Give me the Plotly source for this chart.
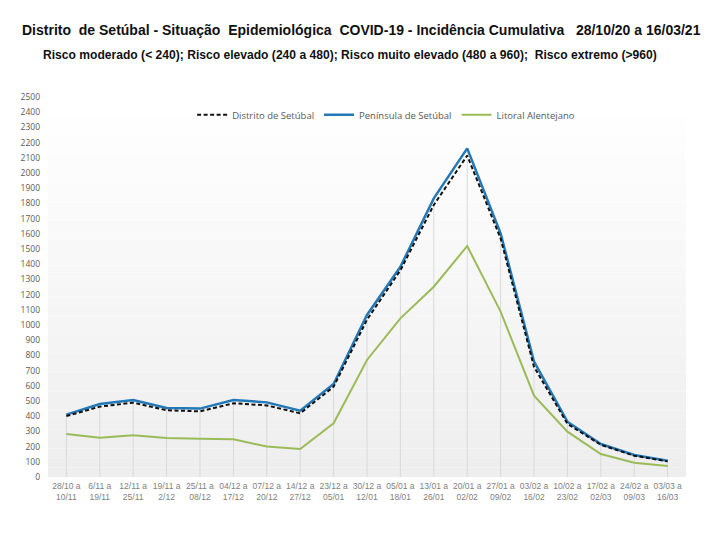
"""Distrito de Setúbal - incidência cumulativa COVID-19 (28/10/20 a 16/03/21)."""
import plotly.graph_objects as go

CATEGORIES: list[str] = [
    "28/10 a<br>10/11", "6/11 a<br>19/11", "12/11 a<br>25/11", "19/11 a<br>2/12",
    "25/11 a<br>08/12", "04/12 a<br>17/12", "07/12 a<br>20/12", "14/12 a<br>27/12",
    "23/12 a<br>05/01", "30/12 a<br>12/01", "05/01 a<br>18/01", "13/01 a<br>26/01",
    "20/01 a<br>02/02", "27/01 a<br>09/02", "03/02 a<br>16/02", "10/02 a<br>23/02",
    "17/02 a<br>02/03", "24/02 a<br>09/03", "03/03 a<br>16/03",
]

DISTRITO: list[float] = [
    401, 463, 489, 439, 432, 485, 471, 419, 594, 1035,
    1360, 1790, 2115, 1570, 725, 350, 212, 140, 103,
]
PENINSULA: list[float] = [
    410, 480, 507, 454, 450, 507, 491, 436, 612, 1066,
    1383, 1833, 2162, 1603, 759, 364, 217, 145, 107,
]
LITORAL: list[float] = [
    283, 259, 274, 257, 252, 248, 200, 184, 353, 770,
    1044, 1252, 1520, 1088, 535, 298, 151, 94, 72,
]

TEXT_GRAY = "#595959"

fig = go.Figure()

# Excel-style drop lines from the highest series down to the axis
drop_x, drop_y = [], []
for cat, a, b, c in zip(CATEGORIES, DISTRITO, PENINSULA, LITORAL):
    drop_x += [cat, cat, None]
    drop_y += [0, max(a, b, c), None]
fig.add_trace(go.Scatter(
    x=drop_x, y=drop_y, mode="lines",
    line={"color": "#d9d9d9", "width": 1},
    showlegend=False, hoverinfo="skip"
))

fig.add_trace(go.Scatter(
    x=CATEGORIES, y=LITORAL, mode="lines", name="Litoral Alentejano",
    line={"color": "#9bbb59", "width": 2}
))
fig.add_trace(go.Scatter(
    x=CATEGORIES, y=PENINSULA, mode="lines", name="Península de Setúbal",
    line={"color": "#2378b8", "width": 2.5}
))
fig.add_trace(go.Scatter(
    x=CATEGORIES, y=DISTRITO, mode="lines", name="Distrito de Setúbal",
    line={"color": "#111111", "width": 2, "dash": "4px,2.5px"}
))

# Vertical gradient for the plot background (white at top to light gray)
bands = 40
shapes = []
for i in range(bands):
    t = i / (bands - 1)
    v = round(255 - 17 * (1 - t))
    shapes.append({
        "type": "rect", "layer": "below", "line": {"width": 0},
        "xref": "x domain", "yref": "y domain",
        "x0": 0, "x1": 1, "y0": i / bands, "y1": (i + 1) / bands,
        "fillcolor": f"rgb({v},{v},{v})",
    })

fig.update_layout(
    width=717, height=538,
    # page body adds ~8px offset, margins compensate for it
    margin={"l": 40, "r": 39, "t": 89, "b": 69},
    paper_bgcolor="white", plot_bgcolor="rgba(0,0,0,0)",
    shapes=shapes,
    font={"family": "Open Sans, sans-serif", "color": TEXT_GRAY},
    legend={
        "orientation": "h", "x": 0.53, "xanchor": "center",
        "y": 0.953, "yanchor": "middle",
        "font": {"size": 9.5, "color": TEXT_GRAY},
        "traceorder": "reversed", "bgcolor": "rgba(0,0,0,0)",
        "itemwidth": 30,
    },
    annotations=[
        {
            "text": "<b>Distrito\u00a0 de Setúbal - Situação\u00a0 Epidemiológica\u00a0 COVID-19 - "
                    "Incidência Cumulativa\u00a0\u00a0 28/10/20 a 16/03/21</b>",
            "xref": "paper", "yref": "paper", "x": 0.5, "y": 1,
            "xanchor": "center", "yanchor": "middle", "yshift": 67,
            "xshift": -6, "showarrow": False,
            "font": {"family": "Liberation Sans, sans-serif",
                     "size": 14, "color": "#111111"},
        },
        {
            "text": "<b>Risco moderado (< 240); Risco elevado (240 a 480); Risco muito elevado "
                    "(480 a 960);\u00a0 Risco extremo (>960)</b>",
            "xref": "paper", "yref": "paper", "x": 0.5, "y": 1,
            "xanchor": "center", "yanchor": "middle", "yshift": 42,
            "xshift": -17, "showarrow": False,
            "font": {"family": "Liberation Sans, sans-serif",
                     "size": 12.1, "color": "#111111"},
        },
    ],
)

fig.update_xaxes(
    type="category", range=[-0.55, len(CATEGORIES) - 0.45],
    showgrid=False, showline=False, zeroline=False, ticks="",
    tickangle=0, tickfont={"family": "Liberation Sans, sans-serif", "size": 8.5,
                           "color": "#7f7f7f"},
    ticklabelstandoff=2,
)
fig.update_yaxes(
    range=[0, 2500], dtick=100, showgrid=False, zeroline=False, showline=False,
    tickfont={"size": 8.5, "color": TEXT_GRAY}, ticklabelstandoff=7,
)

fig.write_html("out.html")
